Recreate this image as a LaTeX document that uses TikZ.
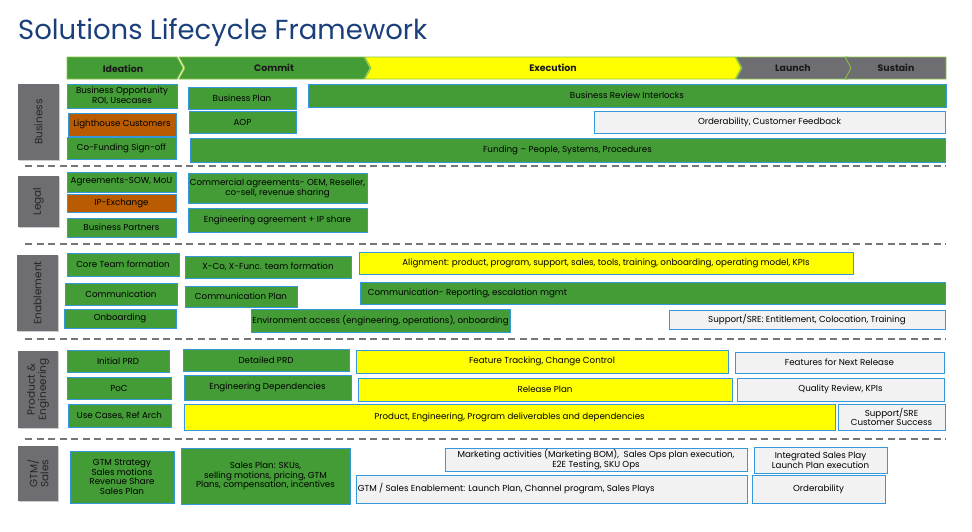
\documentclass[tikz,border=0pt]{standalone}
\usepackage{fontspec}
\setmainfont{Poppins}
\usetikzlibrary{shadows}
\definecolor{mgreen}{RGB}{68,156,55}
\definecolor{myellow}{RGB}{255,255,0}
\definecolor{mgrayb}{RGB}{242,242,242}
\definecolor{morange}{RGB}{185,91,0}
\definecolor{sgray}{RGB}{110,110,114}
\definecolor{bblue}{RGB}{52,152,219}
\definecolor{tblue}{RGB}{27,63,122}
\definecolor{chline}{RGB}{140,198,63}
\definecolor{dgray}{RGB}{118,118,118}
\begin{document}
\begin{tikzpicture}[x=1pt,y=-1pt,
  box/.style={draw=bblue, line width=0.7pt, inner sep=1pt, align=center,
    font=\fontsize{8.7}{9.8}\selectfont, text=black,
    drop shadow={shadow xshift=1pt, shadow yshift=-1pt, opacity=0.25, fill=black}},
  gbox/.style={box, fill=mgreen},
  ybox/.style={box, fill=myellow},
  obox/.style={box, fill=morange},
  wbox/.style={box, fill=mgrayb},
  side/.style={fill=sgray, draw=none, inner sep=0pt, align=center,
    font=\fontsize{10.5}{11.2}\selectfont, text=black!85,
    drop shadow={shadow xshift=1pt, shadow yshift=-1pt, opacity=0.2, fill=black}},
  chev/.style={draw=chline, line width=0.8pt},
  chtext/.style={font=\fontsize{9.4}{11}\selectfont\bfseries, text=black!90},
  dashline/.style={draw=dgray, line width=2pt, dash pattern=on 7pt off 4.5pt},
  lefttext/.style={anchor=west, font=\fontsize{8.7}{9.8}\selectfont, text=black, inner sep=0pt}
]
\newcommand\bx[7]{\node[#2, minimum width={(#5-#3)*1pt}, minimum height={(#6-#4)*1pt}] (#1) at ({(#3+#5)/2},{(#4+#6)/2}) {#7};}
\newcommand\sd[6]{\node[side, rotate=90, minimum width={(#5-#3)*1pt}, minimum height={(#4-#2)*1pt}] (#1) at ({(#2+#4)/2},{(#3+#5)/2}) {#6};}
\useasboundingbox (0,0) rectangle (972,531);
\fill[white] (0,0) rectangle (972,531);

% Title
\node[anchor=base west, inner sep=0pt, font=\fontsize{27.5}{30}\selectfont, text=tblue] (title) at (18,39) {Solutions Lifecycle Framework};

% Header chevrons
\fill[mgreen, chev] (67,57) -- (177,57) -- (183,68) -- (177,79) -- (67,79) -- cycle;
\fill[mgreen, chev] (179,57) -- (364,57) -- (370,68) -- (364,79) -- (179,79) -- (185,68) -- cycle;
\fill[myellow, chev] (365,57) -- (735,57) -- (741,68) -- (735,79) -- (365,79) -- (371,68) -- cycle;
\fill[sgray, chev] (736,57) -- (848,57) -- (854,68) -- (848,79) -- (736,79) -- (742,68) -- cycle;
\fill[sgray, chev] (845,57) -- (946,57) -- (946,79) -- (845,79) -- (851,68) -- cycle;
\node[chtext] (hIdeation) at (123,68.5) {Ideation};
\node[chtext] (hCommit) at (274,68) {Commit};
\node[chtext] (hExecution) at (553,68) {Execution};
\node[chtext] (hLaunch) at (793,68) {Launch};
\node[chtext] (hSustain) at (896,68) {Sustain};

% Side labels
\sd{sbus}{18}{84}{59}{160}{Business}
\sd{slegal}{18}{176}{59}{227}{Legal}
\sd{senab}{17}{255}{58}{331}{Enablement}
\sd{sprod}{18}{351}{58}{428}{Product \&\\Engineering}
\sd{sgtm}{18}{446}{58}{501}{GTM/\\Sales}

% Business
\bx{bopp}{gbox}{67}{84}{177}{108}{Business Opportunity\\ROI, Usecases}
\bx{blight}{obox}{68}{113}{176}{136}{Lighthouse Customers}
\bx{bcofund}{gbox}{67}{137}{176}{159}{Co-Funding Sign-off}
\bx{bplan}{gbox}{188}{87}{296}{109}{Business Plan}
\bx{baop}{gbox}{189}{111}{296}{133}{AOP}
\bx{breview}{gbox}{308}{84}{946}{107}{Business Review Interlocks}
\bx{border}{wbox}{594}{111}{945}{133}{Orderability, Customer Feedback}
\bx{bfund}{gbox}{190}{138}{945}{162}{Funding -- People, Systems, Procedures}

\coordinate (d1a) at (25,166); \coordinate (d1b) at (946,166);
\draw[dashline] (d1a) -- (d1b);

% Legal
\bx{lagree}{gbox}{67}{172}{176}{192}{Agreements-SOW, MoU}
\bx{lip}{obox}{67}{194}{176}{212}{IP-Exchange}
\bx{lpart}{gbox}{67}{218}{176}{237}{Business Partners}
\bx{lcomm}{gbox}{188}{173}{367}{203}{Commercial agreements- OEM, Reseller,\\co-sell, revenue sharing}
\bx{leng}{gbox}{188}{208}{367}{232}{Engineering agreement + IP share}

\coordinate (d2a) at (25,244); \coordinate (d2b) at (946,244);
\draw[dashline] (d2a) -- (d2b);

% Enablement
\bx{ecore}{gbox}{67}{253}{179}{276}{Core Team formation}
\bx{ecomm}{gbox}{65}{283}{177}{305}{Communication}
\bx{eonb}{gbox}{64}{309}{176}{328}{Onboarding}
\bx{exco}{gbox}{185}{256}{351}{278}{X-Co, X-Func. team formation}
\bx{ecplan}{gbox}{185}{286}{297}{307}{Communication Plan}
\bx{eenv}{gbox}{251}{309}{510}{332}{Environment access (engineering, operations), onboarding}
\bx{ealign}{ybox}{359}{252}{853}{274}{Alignment: product, program, support, sales, tools, training, onboarding, operating model, KPIs}
\bx{ecrep}{gbox}{360}{282}{945}{304}{}
\node[lefttext] (ecreptext) at ([xshift=8pt]ecrep.west) {Communication- Reporting, escalation mgmt};
\bx{esre}{wbox}{669}{310}{945}{329}{Support/SRE: Entitlement, Colocation, Training}

\coordinate (d3a) at (25,339); \coordinate (d3b) at (946,339);
\draw[dashline] (d3a) -- (d3b);

% Product & Engineering
\bx{pinit}{gbox}{67}{350}{169}{372}{Initial PRD}
\bx{ppoc}{gbox}{67}{377}{171}{399}{PoC}
\bx{puse}{gbox}{68}{404}{171}{427}{Use Cases, Ref Arch}
\bx{pdet}{gbox}{183}{349}{349}{371}{Detailed PRD}
\bx{pengdep}{gbox}{184}{375}{351}{400}{Engineering Dependencies}
\bx{pdeliv}{ybox}{184}{404}{835}{430}{Product, Engineering, Program deliverables and dependencies}
\bx{pfeat}{ybox}{356}{350}{728}{373}{Feature Tracking, Change Control}
\bx{prel}{ybox}{358}{378}{732}{401}{Release Plan}
\bx{pnext}{wbox}{735}{352}{944}{373}{Features for Next Release}
\bx{pqual}{wbox}{737}{378}{944}{401}{Quality Review, KPIs}
\bx{psre}{wbox}{838}{404}{945}{430}{Support/SRE\\Customer Success}

\coordinate (d4a) at (25,439); \coordinate (d4b) at (946,439);
\draw[dashline] (d4a) -- (d4b);

% GTM / Sales
\bx{gstrat}{gbox}{70}{451}{174}{503}{GTM Strategy\\Sales motions\\Revenue Share\\Sales Plan}
\bx{gsales}{gbox}{181}{448}{350}{504}{Sales Plan: SKUs,\\selling motions, pricing, GTM\\Plans, compensation, incentives}
\bx{gmkt}{wbox}{445}{448}{747}{471}{Marketing activities (Marketing BOM),\ \ Sales Ops plan execution,\\E2E Testing, SKU Ops}
\bx{genable}{wbox}{356}{475}{747}{503}{}
\node[lefttext] (genabletext) at ([xshift=2pt]genable.west) {GTM / Sales Enablement: Launch Plan, Channel program, Sales Plays};
\bx{gint}{wbox}{754}{447}{887}{473}{Integrated Sales Play\\Launch Plan execution}
\bx{gord}{wbox}{752}{475}{885}{503}{Orderability}
\end{tikzpicture}
\end{document}
